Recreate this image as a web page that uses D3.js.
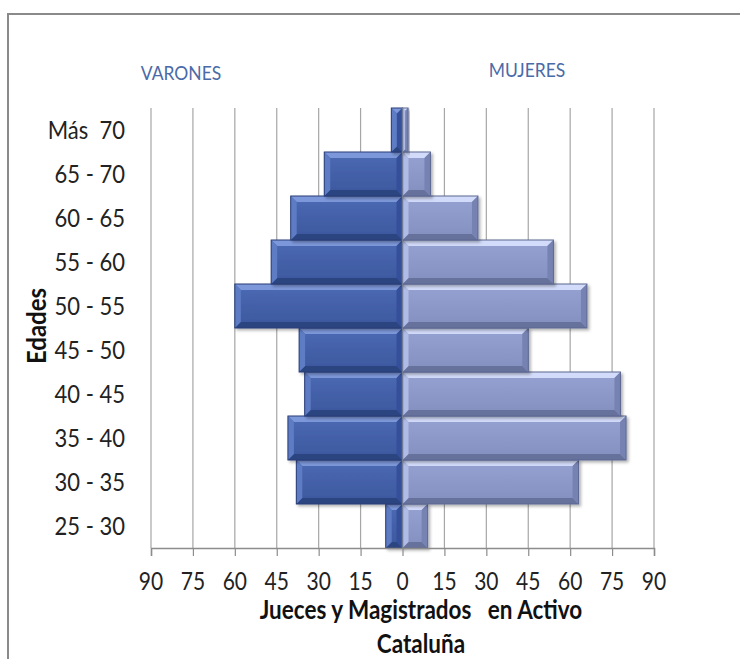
<!DOCTYPE html>
<html><head><meta charset="utf-8">
<script src="https://cdn.jsdelivr.net/npm/d3@7"></script>
<style>html,body{margin:0;padding:0;background:#fff;}svg{display:block;font-family:Lato,"Open Sans",sans-serif;}</style>
</head><body><svg id="c" width="740" height="659"></svg>
<script>
const categories = ["25 - 30","30 - 35","35 - 40","40 - 45","45 - 50","50 - 55","55 - 60","60 - 65","65 - 70","Más  70"];
const varones = [6,38,41,35,37,60,47,40,28,4];
const mujeres = [9,63,80,78,45,66,54,27,10,2];
const tickValues = [-90,-75,-60,-45,-30,-15,0,15,30,45,60,75,90];
const seriesLabels = ["VARONES","MUJERES"];

const svg = d3.select("#c");
const x = d3.scaleLinear().domain([-90,90]).range([151,654]);
const y = d3.scaleBand().domain(categories.slice().reverse()).range([108,548]).padding(0);
const SY = 1.15;

function txt(g, px, py, s, opts){
  const t = g.append("text")
    .attr("transform",`translate(${px},${py}) scale(${opts.sx||1},${opts.sy||SY})`)
    .attr("text-anchor",opts.anchor||"middle")
    .attr("font-size",opts.size).attr("fill",opts.fill||"#222")
    .attr("font-weight",opts.weight||"normal")
    .style("white-space","pre").text(s);
  if(opts.dy) t.attr("dy",opts.dy);
  return t;
}

// frame
svg.append("rect").attr("x",8).attr("y",14).attr("width",760).attr("height",700)
  .attr("fill","none").attr("stroke","#8a8a8a").attr("stroke-width",2);

// gridlines
svg.append("g").selectAll("line").data(tickValues).join("line")
  .attr("x1",d=>x(d)).attr("x2",d=>x(d)).attr("y1",108).attr("y2",548)
  .attr("stroke","#a6a6a6").attr("stroke-width",1.2);

const defs = svg.append("defs");
const f = defs.append("filter").attr("id","sh").attr("x","-10%").attr("y","-10%").attr("width","130%").attr("height","140%");
f.append("feDropShadow").attr("dx",2).attr("dy",2).attr("stdDeviation",1.5).attr("flood-color","#000").attr("flood-opacity",0.3);

const pal = {
  v:{f1:"#4b6ab4",f2:"#3c579d",top:"#7d98da",bot:"#2c4480",left:"#5d7bc4",right:"#35509a",stroke:"#2a3f78"},
  m:{f1:"#96a3d2",f2:"#8390bf",top:"#d2dbfa",bot:"#66719c",left:"#b0bce6",right:"#7682b2",stroke:"#5d6891"}
};
Object.entries(pal).forEach(([k,p])=>{
  const lg = defs.append("linearGradient").attr("id","g"+k).attr("x1",0).attr("y1",0).attr("x2",0).attr("y2",1);
  lg.append("stop").attr("offset","0%").attr("stop-color",p.f1);
  lg.append("stop").attr("offset","100%").attr("stop-color",p.f2);
});
function bevel(g, x0, x1, y0, y1, p, k){
  const w = x1-x0, h=y1-y0;
  const b = Math.min(6, w/2, h/2);
  const gg = g.append("g").attr("filter","url(#sh)");
  gg.append("rect").attr("x",x0).attr("y",y0).attr("width",w).attr("height",h).attr("fill",`url(#g${k})`);
  const poly = (pts,c)=>gg.append("polygon").attr("points",pts.map(q=>q.join(",")).join(" ")).attr("fill",c);
  poly([[x0,y0],[x1,y0],[x1-b,y0+b],[x0+b,y0+b]],p.top);
  poly([[x0,y1],[x1,y1],[x1-b,y1-b],[x0+b,y1-b]],p.bot);
  poly([[x0,y0],[x0+b,y0+b],[x0+b,y1-b],[x0,y1]],p.left);
  poly([[x1,y0],[x1-b,y0+b],[x1-b,y1-b],[x1,y1]],p.right);
  gg.append("rect").attr("x",x0).attr("y",y0).attr("width",w).attr("height",h)
    .attr("fill","none").attr("stroke",p.stroke).attr("stroke-width",1);
}
const bars = svg.append("g");
categories.forEach((c,i)=>{
  const y0 = y(c), y1 = y(c)+y.bandwidth();
  bevel(bars, x(-varones[i]), x(0), y0, y1, pal.v, "v");
  bevel(bars, x(0), x(mujeres[i]), y0, y1, pal.m, "m");
});
// zero line
svg.append("line").attr("x1",x(0)).attr("x2",x(0)).attr("y1",108).attr("y2",548)
  .attr("stroke","#6f7a96").attr("stroke-width",1.5);

// x axis (line + ticks via d3 axis, labels drawn with vertical stretch)
const xa = svg.append("g").attr("transform","translate(0,548)")
  .call(d3.axisBottom(x).tickValues(tickValues).tickFormat("").tickSize(8));
xa.select(".domain").attr("stroke","#8c8c8c").attr("stroke-width",1.5);
xa.selectAll(".tick line").attr("stroke","#8c8c8c").attr("stroke-width",1.2);
const xl = svg.append("g");
tickValues.forEach(v=>txt(xl, x(v), 590, String(Math.abs(v)), {size:21}));

// y labels
const yl = svg.append("g");
categories.forEach(c=>txt(yl, 125, y(c)+y.bandwidth()/2, c, {size:22, anchor:"end", dy:"0.35em", sy:1.17}));

// series labels
txt(svg, 181, 80, seriesLabels[0], {size:17.5, fill:"#4a6aa8"});
txt(svg, 527, 77, seriesLabels[1], {size:17.5, fill:"#4a6aa8"});

// axis titles
svg.append("text").attr("transform","translate(46,326) rotate(-90) scale(1,1.1)").attr("text-anchor","middle")
  .attr("font-size",24).attr("font-weight","bold").attr("fill","#111").text("Edades");
txt(svg, 421, 619, "Jueces y Magistrados   en Activo", {size:22.5, weight:"bold", fill:"#111"});
txt(svg, 421, 653, "Cataluña", {size:22.5, weight:"bold", fill:"#111"});
</script></body></html>
